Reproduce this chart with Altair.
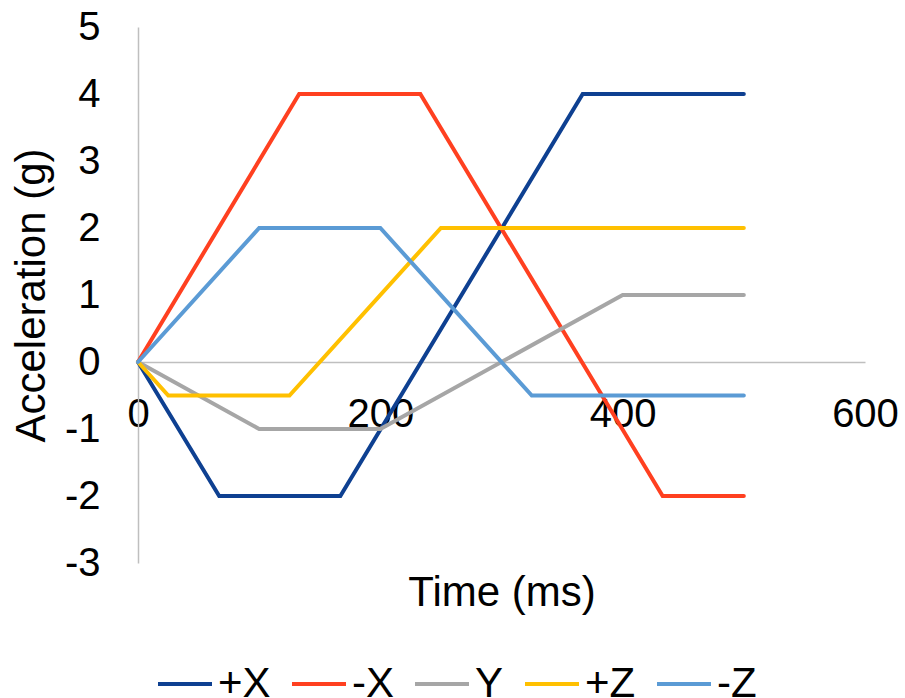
import altair as alt
import pandas as pd

series = ["+X", "-X", "Y", "+Z", "-Z"]
colors = ["#0E4091", "#FF4020", "#A6A6A6", "#FFC000", "#5B9BD5"]

t_px = [0, 67, 167, 367, 500]
a_px = [0, -2, -2, 4, 4]
t_nx = [0, 133, 233, 433, 500]
a_nx = [0, 4, 4, -2, -2]
t_y = [0, 100, 200, 400, 500]
a_y = [0, -1, -1, 1, 1]
t_pz = [0, 25, 125, 250, 500]
a_pz = [0, -0.5, -0.5, 2, 2]
t_nz = [0, 100, 200, 325, 500]
a_nz = [0, 2, 2, -0.5, -0.5]

x_ticks = [0, 200, 400, 600]
y_ticks = [-3, -2, -1, 0, 1, 2, 3, 4, 5]

rows = []
for name, ts, as_ in zip(series, [t_px, t_nx, t_y, t_pz, t_nz], [a_px, a_nx, a_y, a_pz, a_nz]):
    for i, (t, a) in enumerate(zip(ts, as_)):
        rows.append({"s": name, "t": t, "a": a, "i": i})
df = pd.DataFrame(rows)

FONT = "Liberation Sans"

chart = alt.Chart(df).mark_line(strokeWidth=4, strokeCap="round", strokeJoin="miter").encode(
    x=alt.X("t:Q", scale=alt.Scale(domain=[0, 600], nice=False, zero=False),
            axis=alt.Axis(values=x_ticks, offset=-201, title="Time (ms)", grid=False, ticks=False,
                          domainColor="#BFBFBF", domainWidth=1.5, labelFontSize=40, labelFont=FONT,
                          labelColor="#000000", labelPadding=32, labelFlush=False, labelOverlap=False,
                          labelExpr="datum.value + ''",
                          titleFontSize=42, titleFont=FONT, titleFontWeight="normal", titleColor="#000000",
                          titleX=363.5, titleY=210, titleBaseline="top", titleAlign="center")),
    y=alt.Y("a:Q", scale=alt.Scale(domain=[-3, 5], nice=False, zero=False),
            axis=alt.Axis(values=y_ticks, title="Acceleration (g)", grid=False, ticks=False,
                          domainColor="#BFBFBF", domainWidth=1.5, labelFontSize=40, labelFont=FONT,
                          labelColor="#000000", labelPadding=38, labelFlush=False, labelOverlap=False,
                          labelExpr="datum.value + ''",
                          titleFontSize=42, titleFont=FONT, titleFontWeight="normal", titleColor="#000000",
                          titleX=-107, titleY=268, titleAngle=-90, titleBaseline="middle", titleAlign="center")),
    color=alt.Color("s:N", scale=alt.Scale(domain=series, range=colors), sort=series,
                    legend=alt.Legend(title=None, orient="none", direction="horizontal",
                                      legendX=18, legendY=628, symbolType="stroke", symbolSize=2916,
                                      symbolStrokeWidth=4, labelFontSize=42, labelFont=FONT,
                                      labelColor="#000000", labelOffset=4, columnPadding=13, padding=0)),
    order=alt.Order("i:Q"),
).properties(
    width=727, height=536,
    background="white",
    autosize=alt.AutoSizeParams(type="none"),
    padding={"left": 138, "top": 27, "right": 40, "bottom": 135},
).configure_view(strokeWidth=0)

chart.save("out.html", embed_options={"renderer": "svg", "actions": False})
